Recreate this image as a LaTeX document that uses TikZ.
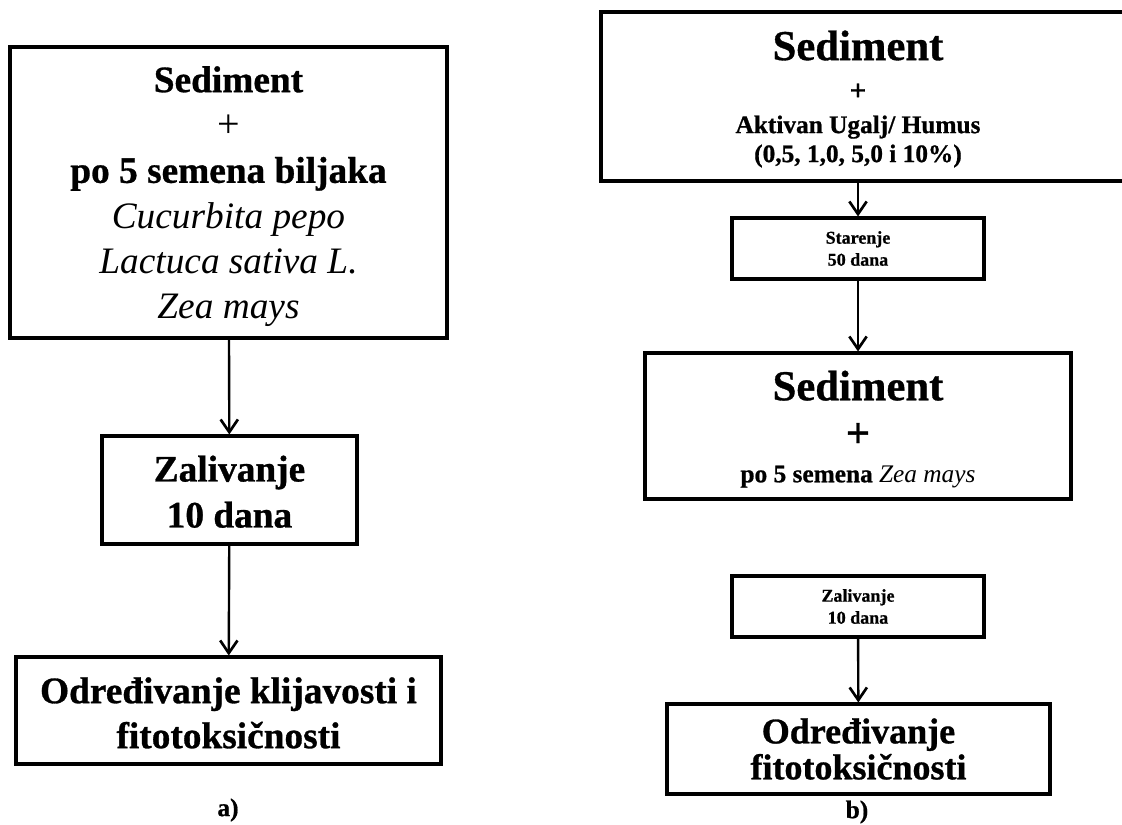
\documentclass[tikz,border=0pt]{standalone}
\usepackage{fontspec}
\setmainfont{Liberation Serif}[BoldFeatures={FakeBold=0.8}]
\usetikzlibrary{arrows.meta}
\begin{document}
\begin{tikzpicture}[x=0.75pt,y=-0.75pt,
  box/.style={draw, line width=2.3pt, inner sep=0pt, align=center},
  txt/.style={inner sep=0pt, align=center},
  arr/.style={line width=1.8pt, -{Straight Barb[length=9.5pt,width=13pt,line width=2pt]}},
  bigL/.style={font=\bfseries\fontsize{28}{34}\selectfont},
  captionlbl/.style={inner sep=0pt, font=\bfseries\fontsize{19}{20}\selectfont}]
\useasboundingbox (0,0) rectangle (1122,825);
% ---------- panel a ----------
\node[box, bigL, minimum width={437*0.75pt}, minimum height={291*0.75pt}] (A1) at (228.5,192.5)
  {\rule{0pt}{25.5pt}Sediment\\{\mdseries\fontsize{30}{30}\selectfont +}\\po 5 semena biljaka\\\textmd{\textit{Cucurbita pepo}}\\\textmd{\textit{Lactuca sativa L.}}\\\textmd{\textit{Zea mays}}};
\node[box, font=\bfseries\fontsize{28}{34.5}\selectfont, minimum width={255*0.75pt}, minimum height={108*0.75pt}] (A2) at (229.5,490)
  {\rule{0pt}{22pt}Zalivanje\\10 dana};
\node[box, font=\bfseries\fontsize{28}{33.75}\selectfont, minimum width={425*0.75pt}, minimum height={107*0.75pt}] (A3) at (228.5,710.5)
  {\rule{0pt}{23pt}Određivanje klijavosti i\\fitotoksičnosti};
\node[captionlbl] (la) at (228,810) {a)};
\draw[arr] (A1) -- (A2);
\draw[arr] (A2) -- (A3);
% ---------- panel b ----------
\begin{scope}
\clip (0,0) rectangle (1122,825);
\node[box, minimum width={540*0.75pt}, minimum height={169*0.75pt}] (B1) at (871,96.5) {};
\end{scope}
\node[txt, font=\bfseries\fontsize{19}{21.75}\selectfont] (B1t) at (858,99)
  {{\fontsize{32}{32}\selectfont Sediment}\\[8.25pt]{\fontsize{22}{22}\selectfont +}\\[3pt]Aktivan Ugalj/ Humus\\(0,5, 1,0, 5,0 i 10\%)};
\node[box, font=\bfseries\fontsize{13.5}{16.5}\selectfont, minimum width={252*0.75pt}, minimum height={61*0.75pt}] (B2) at (858,248.5)
  {Starenje\\50 dana};
\node[box, font=\bfseries\fontsize{19}{26.25}\selectfont, minimum width={426*0.75pt}, minimum height={146*0.75pt}] (B3) at (858,426)
  {{\fontsize{32}{32}\selectfont\rule{0pt}{27pt}Sediment}\\[9pt]{\fontsize{32}{32}\selectfont +}\\po 5 semena \textmd{\textit{Zea mays}}};
\node[box, font=\bfseries\fontsize{13.5}{16.5}\selectfont, minimum width={252*0.75pt}, minimum height={61*0.75pt}] (B4) at (858,606.5)
  {Zalivanje\\10 dana};
\node[box, font=\bfseries\fontsize{27}{27}\selectfont, minimum width={383*0.75pt}, minimum height={90*0.75pt}] (B5) at (858.5,749)
  {Određivanje\\fitotoksičnosti};
\node[captionlbl] (lb) at (857,812) {b)};
\draw[arr] (B2.north |- B1.south) -- (B2.north);
\draw[arr] (B2) -- (B3);
\draw[arr] (B4) -- (B5);
\end{tikzpicture}
\end{document}
